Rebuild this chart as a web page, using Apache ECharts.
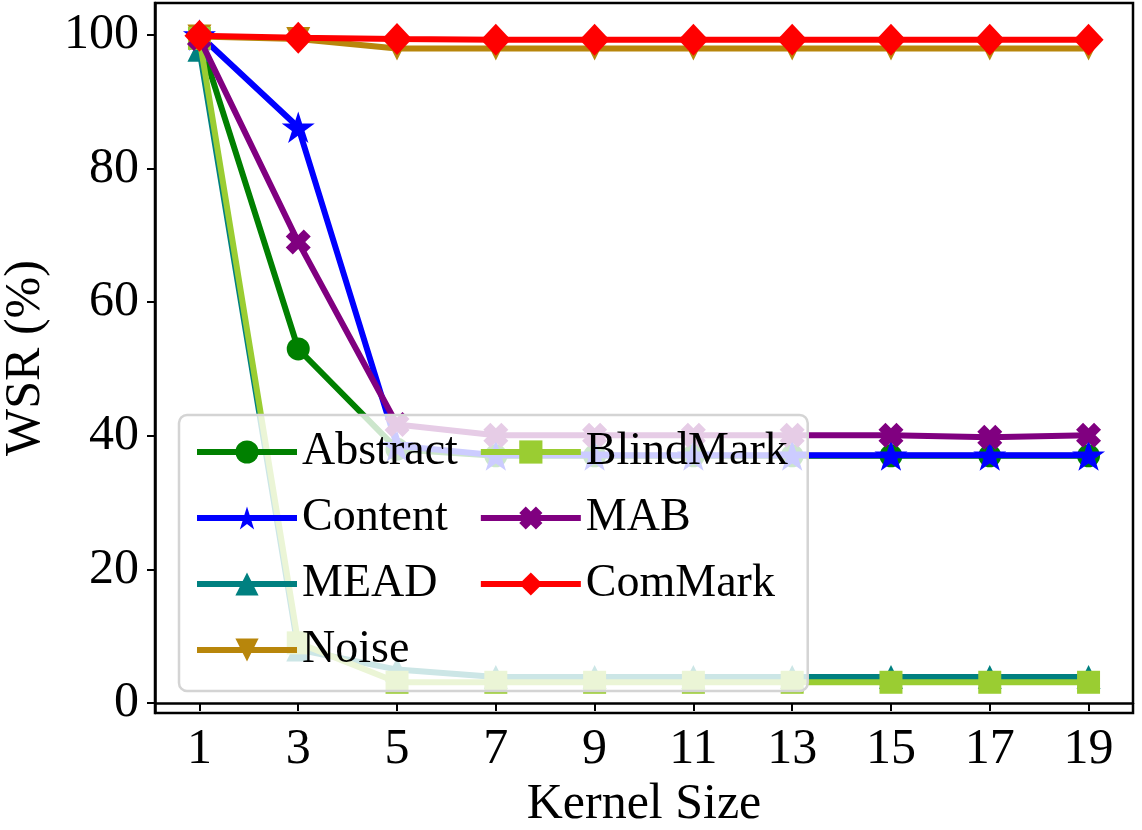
<!DOCTYPE html>
<html>
<head>
<meta charset="utf-8">
<script src="https://cdn.jsdelivr.net/npm/echarts@6/dist/echarts.min.js"></script>
<style>html,body{margin:0;padding:0;background:#fff}#c{width:1142px;height:830px}</style>
</head>
<body>
<div id="c"></div>
<script>
const kernelSizes = [1, 3, 5, 7, 9, 11, 13, 15, 17, 19];
const yTicks = [0, 20, 40, 60, 80, 100];
const seriesNames = ['Abstract', 'Content', 'MEAD', 'Noise', 'BlindMark', 'MAB', 'ComMark'];
const abstractVals = [99.5, 53.0, 38.0, 37.0, 37.0, 37.0, 37.0, 37.0, 37.0, 37.0];
const contentVals  = [100.0, 86.2, 38.5, 37.1, 37.1, 37.1, 37.1, 37.1, 37.1, 37.1];
const meadVals     = [97.8, 8.0, 5.0, 3.9, 3.9, 3.9, 3.9, 3.9, 3.9, 3.9];
const noiseVals    = [99.8, 99.4, 98.0, 98.0, 98.0, 98.0, 98.0, 98.0, 98.0, 98.0];
const blindVals    = [99.5, 9.0, 3.1, 3.1, 3.1, 3.1, 3.1, 3.1, 3.1, 3.1];
const mabVals      = [99.5, 69.0, 41.7, 40.1, 40.1, 40.1, 40.1, 40.1, 39.8, 40.1];
const comMarkVals  = [99.9, 99.6, 99.4, 99.3, 99.3, 99.3, 99.3, 99.3, 99.3, 99.3];

const FONT = 'Liberation Serif';
const STAR = 'path://M50,0 L61.2,34.5 L97.6,34.5 L68.2,55.9 L79.4,90.5 L50,69.1 L20.6,90.5 L31.8,55.9 L2.4,34.5 L38.8,34.5 Z';
const XMARK = 'path://M0,28 L28,0 L50,22 L72,0 L100,28 L78,50 L100,72 L72,100 L50,78 L28,100 L0,72 L22,50 Z';

const styles = [
  {vals: abstractVals, color: '#008000', symbol: 'circle', size: 23, rot: 0},
  {vals: contentVals,  color: '#0000ff', symbol: STAR, size: 33, rot: 0},
  {vals: meadVals,     color: '#008080', symbol: 'triangle', size: 24, rot: 0},
  {vals: noiseVals,    color: '#b8860b', symbol: 'triangle', size: 24, rot: 180},
  {vals: blindVals,    color: '#9acd32', symbol: 'rect', size: 23, rot: 0},
  {vals: mabVals,      color: '#800080', symbol: XMARK, size: 25, rot: 0},
  {vals: comMarkVals,  color: '#ff0000', symbol: 'diamond', size: [30, 32], rot: 0}
];

const series = seriesNames.map((name, i) => {
  const s = styles[i];
  return {
    name: name,
    type: 'line',
    data: kernelSizes.map((k, j) => [k, s.vals[j]]),
    symbol: s.symbol,
    symbolSize: s.size,
    symbolRotate: s.rot,
    symbolKeepAspect: true,
    showAllSymbol: true,
    lineStyle: {color: s.color, width: 6},
    itemStyle: {color: s.color, borderWidth: 0},
    emphasis: {disabled: true},
    animation: false,
    z: 2 + i * 0.01
  };
});

const chart = echarts.init(document.getElementById('c'), null, {renderer: 'canvas'});
chart.setOption({
  backgroundColor: '#ffffff',
  animation: false,
  grid: {left: 155, right: 9, top: 3, bottom: 117, show: true, borderColor: '#000', borderWidth: 2.5,
         backgroundColor: 'transparent', containLabel: false, outerBoundsMode: 'none'},
  xAxis: {
    type: 'value', min: 0.1, max: 19.9,
    name: 'Kernel Size', nameLocation: 'middle', nameGap: 66,
    nameTextStyle: {fontFamily: FONT, fontSize: 50, color: '#000'},
    axisLine: {show: true, lineStyle: {color: '#000', width: 2.5}},
    axisTick: {show: true, length: 8, lineStyle: {color: '#000', width: 2}, customValues: kernelSizes},
    axisLabel: {fontFamily: FONT, fontSize: 50, color: '#000', margin: 12, customValues: kernelSizes},
    splitLine: {show: false}
  },
  yAxis: {
    type: 'value', min: -1.5, max: 104.8,
    name: 'WSR (%)', nameLocation: 'middle', nameGap: 104, nameRotate: 90,
    nameTextStyle: {fontFamily: FONT, fontSize: 50, color: '#000'},
    axisLine: {show: true, lineStyle: {color: '#000', width: 2.5}},
    axisTick: {show: true, length: 8, lineStyle: {color: '#000', width: 2}, customValues: yTicks},
    axisLabel: {fontFamily: FONT, fontSize: 50, color: '#000', margin: 16, customValues: yTicks},
    splitLine: {show: false}
  },
  legend: {
    type: 'plain', orient: 'vertical', left: 179, top: 415, height: 250,
    data: seriesNames,
    itemWidth: 100, itemHeight: 29, itemGap: 20,
    padding: [14, 20, 18, 15],
    backgroundColor: 'rgba(255,255,255,0.8)',
    borderColor: '#d4d4d4', borderWidth: 2.5, borderRadius: 8,
    lineStyle: {width: 6},
    textStyle: {fontFamily: FONT, fontSize: 46, color: '#000', lineHeight: 45},
    selectedMode: false
  },
  series: series
});
</script>
</body>
</html>
